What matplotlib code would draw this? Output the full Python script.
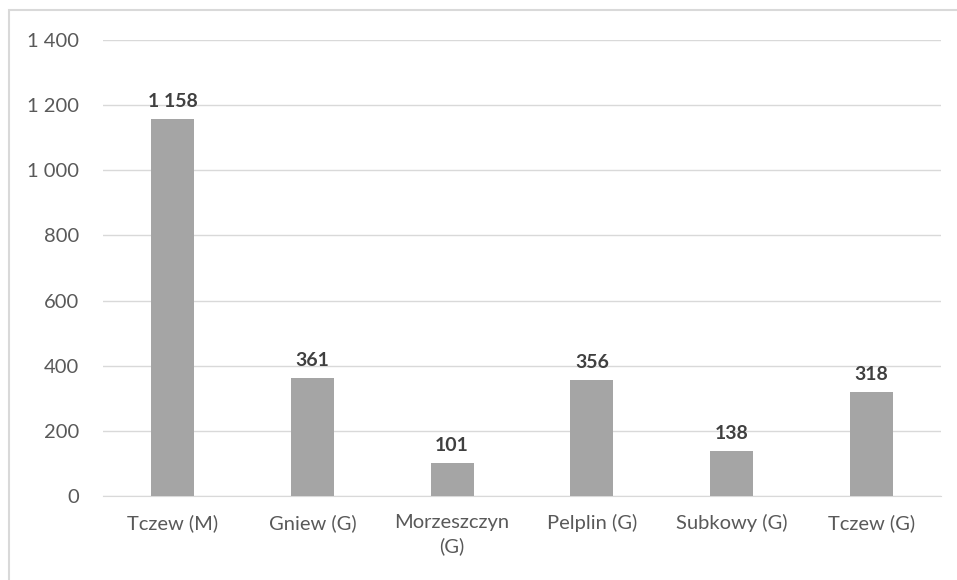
import matplotlib
matplotlib.use("Agg")
import matplotlib.pyplot as plt
from matplotlib.patches import Rectangle
from matplotlib.ticker import FuncFormatter

categories = ["Tczew (M)", "Gniew (G)", "Morzeszczyn\n(G)", "Pelplin (G)", "Subkowy (G)", "Tczew (G)"]
values = [1158, 361, 101, 356, 138, 318]
yticks = [0, 200, 400, 600, 800, 1000, 1200, 1400]

plt.rcParams["font.family"] = ["Lato", "DejaVu Sans"]

fig = plt.figure(figsize=(9.57, 5.8), dpi=100)
ax = fig.add_axes([103 / 957, 1 - 496 / 580, (941 - 103) / 957, (496 - 40) / 580])

# figure border
fig.patches.append(Rectangle((9 / 957, -0.01), 1.0, 1 - 10 / 580 + 0.01, transform=fig.transFigure,
                             fill=False, edgecolor="#d9d9d9", linewidth=1.5))

x = range(len(categories))
ax.bar(x, values, width=0.31, color="#a5a5a5", zorder=3)
for xi, v in zip(x, values):
    ax.text(xi, v + 28, "{:,}".format(v).replace(",", " "), ha="center", va="bottom",
            fontsize=14, fontweight="bold", color="#404040")

ax.set_xlim(-0.5, len(categories) - 0.5)
ax.set_ylim(0, 1400)
ax.set_yticks(yticks)
ax.yaxis.set_major_formatter(FuncFormatter(lambda v, p: "{:,}".format(int(v)).replace(",", " ")))
ax.set_xticks(list(x))
ax.set_xticklabels(categories, linespacing=1.4)
ax.grid(axis="y", color="#d9d9d9", linewidth=1, zorder=0)
for s in ["top", "right", "left"]:
    ax.spines[s].set_visible(False)
ax.spines["bottom"].set_color("#d9d9d9")
ax.tick_params(axis="both", length=0, labelsize=14.5, colors="#595959")
ax.tick_params(axis="y", pad=17)
ax.tick_params(axis="x", pad=13)

fig.savefig("out.png", dpi=100)
